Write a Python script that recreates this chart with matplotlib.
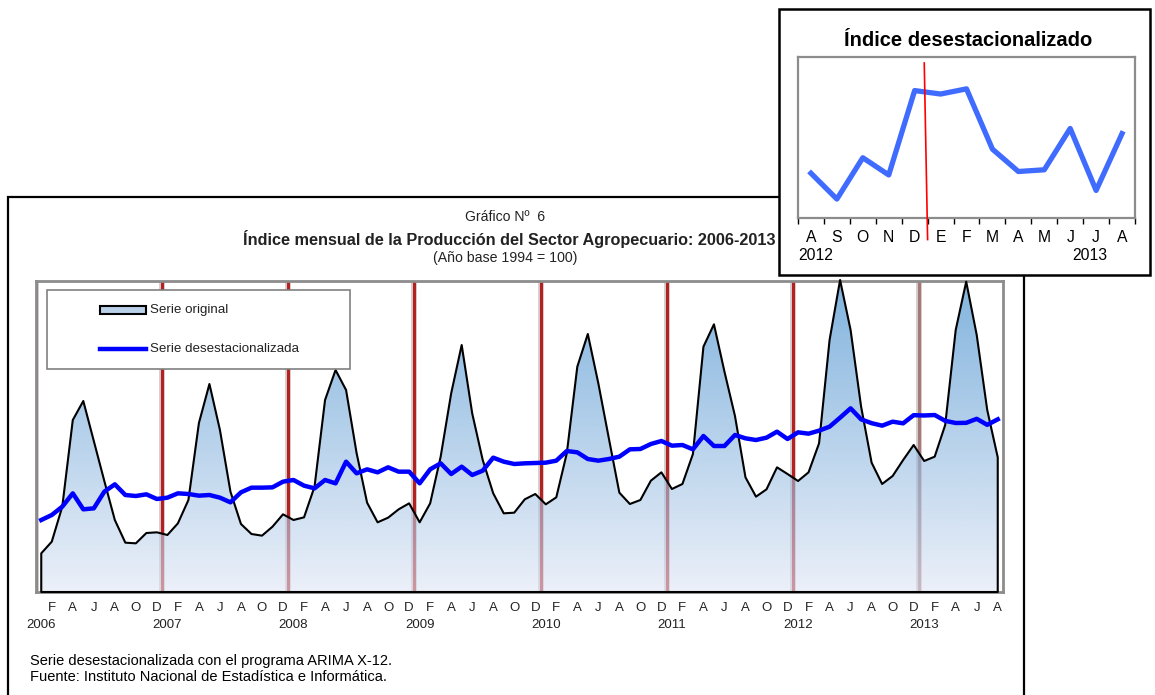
import numpy as np
import matplotlib
matplotlib.use('Agg')
import matplotlib.pyplot as plt
from matplotlib import transforms
from matplotlib.patches import Rectangle
from matplotlib.lines import Line2D

# ---------------- data ----------------
years = [2006, 2007, 2008, 2009, 2010, 2011, 2012, 2013]
tick_letters = ['F', 'A', 'J', 'A', 'O', 'D']

serie_original = [
    123.2, 130.2, 151.2, 203.2, 214.6, 190.6, 166.6, 143.2, 129.6, 129.2, 135.4, 135.8,
    134.2, 141.2, 155.2, 201.4, 224.8, 197.2, 160.2, 140.8, 134.8, 133.8, 139.2, 146.6,
    143.2, 144.8, 163.2, 215.2, 233.2, 221.2, 183.4, 153.6, 141.8, 144.6, 149.6, 153.2,
    141.8, 153.2, 181.2, 219.2, 248.2, 207.2, 179.2, 159.2, 147.2, 147.6, 155.6, 158.8,
    152.6, 156.8, 183.2, 235.2, 254.8, 225.2, 192.2, 159.6, 152.8, 155.2, 166.8, 171.8,
    161.8, 164.8, 182.8, 247.2, 260.6, 232.2, 205.6, 168.8, 157.2, 161.6, 174.8, 170.8,
    166.6, 171.8, 189.2, 251.2, 287.2, 257.2, 211.2, 177.6, 164.8, 169.6, 179.2, 188.2,
    178.6, 181.2, 200.2, 257.2, 286.2, 254.2, 209.2, 180.8,
]

serie_desest = [
    143.2, 146.2, 151.2, 159.2, 149.6, 150.2, 160.2, 164.6, 158.2, 157.6, 158.6, 155.8,
    156.6, 159.2, 158.8, 157.8, 158.2, 156.6, 153.8, 159.8, 162.6, 162.6, 162.8, 166.2,
    167.2, 163.8, 162.2, 167.2, 165.2, 178.2, 171.2, 173.6, 171.8, 174.8, 172.2, 172.2,
    165.2, 173.6, 177.2, 170.8, 175.2, 170.2, 172.8, 180.6, 178.2, 176.8, 177.2, 177.4,
    177.6, 178.8, 184.6, 183.8, 179.8, 178.8, 179.8, 181.2, 185.6, 185.8, 188.8, 190.6,
    187.8, 188.2, 185.6, 193.6, 187.6, 187.6, 194.2, 192.2, 191.2, 192.6, 196.2, 191.8,
    195.8, 195.0, 196.8, 199.2, 204.6, 210.2, 203.6, 201.3, 199.8, 202.2, 201.2, 206.1,
    205.9, 206.2, 202.7, 201.4, 201.5, 203.9, 200.3, 203.6,
]

inset_labels = ['A', 'S', 'O', 'N', 'D', 'E', 'F', 'M', 'A', 'M', 'J', 'J', 'A']
inset_years = ['2012', '2013']
inset_start = 79  # Aug 2012

# ---------------- styling ----------------
NARROW = ['Liberation Sans Narrow', 'Liberation Sans', 'DejaVu Sans']
ARIAL = ['Liberation Sans', 'DejaVu Sans']

W, H = 1155, 695
fig = plt.figure(figsize=(W / 100, H / 100), dpi=100)
fig.patch.set_facecolor('white')


def fx(x):
    return x / W


def fy(y):
    return 1 - y / H


# outer frame of main chart
fig.patches.append(Rectangle((fx(8), -0.1), (1024 - 8) / W, fy(196.7) + 0.1,
                             transform=fig.transFigure, fill=False,
                             ec='black', lw=1.6, zorder=1))

# ---------------- main axes ----------------
n = len(serie_original)
x = np.arange(n)
ymin, ymax = 100.0, 286.6

ax = fig.add_axes([fx(36), fy(592), (1003 - 36) / W, (592 - 281) / H], zorder=0)
ax.set_facecolor('white')

# year separators
sep_colors = ['#9a5a5a'] + ['#b52020'] * 6 + ['#a87878']
for k in range(len(years)):
    xv = -0.5 + 12 * k
    ax.axvline(xv, color='#d4cccc', lw=4.2, zorder=1)
    ax.axvline(xv, color=sep_colors[k], lw=2.2, zorder=1.5)

# original series: gradient-filled area
poly = ax.fill_between(x, ymin, serie_original, facecolor='none',
                       edgecolor='black', lw=1.5, zorder=4, clip_on=False)
top = np.array([130, 180, 222]) / 255.0
bot = np.array([236, 240, 249]) / 255.0
alpha = 0.6
top_raw = np.clip((top - (1 - alpha)) / alpha, 0, 1)
bot_raw = np.clip((bot - (1 - alpha)) / alpha, 0, 1)
t = np.linspace(0, 1, 256)[:, None]
grad = np.zeros((256, 1, 4))
grad[:, 0, :3] = bot_raw + (top_raw - bot_raw) * t
grad[:, 0, 3] = alpha
im = ax.imshow(grad, extent=[-0.5, n - 0.5, ymin, ymax], origin='lower',
               aspect='auto', zorder=3, interpolation='bilinear')
im.set_clip_path(poly.get_paths()[0], ax.transData)

# seasonally adjusted series
ax.plot(x, serie_desest, color='#0000ff', lw=3.2, zorder=5)

ax.set_xlim(-0.5, n - 0.5)
ax.set_ylim(ymin, ymax)
for s in ax.spines.values():
    s.set_color('#8c8c8c')
    s.set_linewidth(2)
ax.set_yticks([])
tick_pos = list(range(1, n, 2))
ax.set_xticks(tick_pos)
ax.set_xticklabels([tick_letters[i % 6] for i in range(len(tick_pos))],
                   fontsize=9.5, family=NARROW, color='#222222')
ax.tick_params(axis='x', length=0, pad=7)

trans = transforms.blended_transform_factory(ax.transData, ax.transAxes)
for j, yr in enumerate(years):
    ax.text(12 * j, -0.106, str(yr), transform=trans, ha='center', va='center',
            fontsize=9.5, family=NARROW, color='#222222')

# legend (manual, in figure pixels)
fig.patches.append(Rectangle((fx(47), fy(369)), (350 - 47) / W, (369 - 290) / H,
                             transform=fig.transFigure, fc='white',
                             ec='#808080', lw=1.2, zorder=1.5))
fig.patches.append(Rectangle((fx(100), fy(314)), 46 / W, 8 / H,
                             transform=fig.transFigure, fc='#b9d0e8',
                             ec='black', lw=1.5, zorder=1.6))
fig.lines.append(Line2D([fx(100), fx(146)], [fy(349), fy(349)],
                        transform=fig.transFigure, color='#0000ff', lw=3.2,
                        zorder=1.6))
fig.text(fx(150), fy(310), 'Serie original', ha='left', va='center',
         fontsize=9.6, family=NARROW, color='#222222', zorder=1.7)
fig.text(fx(150), fy(349), 'Serie desestacionalizada', ha='left', va='center',
         fontsize=9.6, family=NARROW, color='#222222', zorder=1.7)

# titles
fig.text(fx(505), fy(217), 'Gráfico Nº  6', ha='center', va='center',
         fontsize=10.1, family=NARROW, color='#222222')
fig.text(fx(509), fy(239),
         'Índice mensual de la Producción del Sector Agropecuario: 2006-2013',
         ha='center', va='center', fontsize=11.7, family=NARROW,
         fontweight='bold', color='#222222')
fig.text(fx(505), fy(258), '(Año base 1994 = 100)', ha='center', va='center',
         fontsize=10.2, family=NARROW, color='#222222')

# notes
fig.text(fx(30), fy(661), 'Serie desestacionalizada con el programa ARIMA X-12.',
         ha='left', va='center', fontsize=10.5, family=ARIAL, color='black')
fig.text(fx(30), fy(677), 'Fuente: Instituto Nacional de Estadística e Informática.',
         ha='left', va='center', fontsize=10.5, family=ARIAL, color='black')

# ---------------- inset ----------------
fig.patches.append(Rectangle((fx(779), fy(275)), (1150 - 779) / W, (275 - 9.3) / H,
                             transform=fig.transFigure, fc='white',
                             ec='black', lw=1.8, zorder=2))

ax2 = fig.add_axes([fx(798), fy(218), (1135 - 798) / W, (218 - 57) / H], zorder=3)
ins_vals = serie_desest[inset_start:inset_start + len(inset_labels)]
xi = np.arange(len(inset_labels))
ax2.plot(xi, ins_vals, color='#3f6cff', lw=3.8, zorder=3)
ax2.set_xlim(-0.5, len(inset_labels) - 0.5)
ax2.set_ylim(198.7, 208.05)
for s in ax2.spines.values():
    s.set_color('#8c8c8c')
    s.set_linewidth(1.6)
ax2.set_yticks([])
ax2.set_xticks(np.arange(-0.5, len(inset_labels)), labels=[])
ax2.set_xticks(xi, labels=inset_labels, minor=True)
ax2.tick_params(axis='x', which='major', length=4, width=1, color='black',
                direction='out')
ax2.tick_params(axis='x', which='minor', length=0, pad=8.5)
for lab in ax2.get_xticklabels(minor=True):
    lab.set_fontsize(11.3)
    lab.set_family(ARIAL)
trans2 = transforms.blended_transform_factory(ax2.transData, ax2.transAxes)
ax2.text(0.2, -0.23, inset_years[0], transform=trans2, ha='center', va='center',
         fontsize=11.3, family=ARIAL)
ax2.text(10.77, -0.23, inset_years[1], transform=trans2, ha='center', va='center',
         fontsize=11.3, family=ARIAL)
ax2.add_line(Line2D([4.37, 4.50], [0.963, -0.134], transform=trans2,
                    color='red', lw=1.2, clip_on=False, zorder=4))

fig.text(fx(968), fy(40), 'Índice desestacionalizado', ha='center', va='center',
         fontsize=14.5, family=ARIAL, fontweight='bold', zorder=4)

fig.savefig('out.png', dpi=100, facecolor='white')
